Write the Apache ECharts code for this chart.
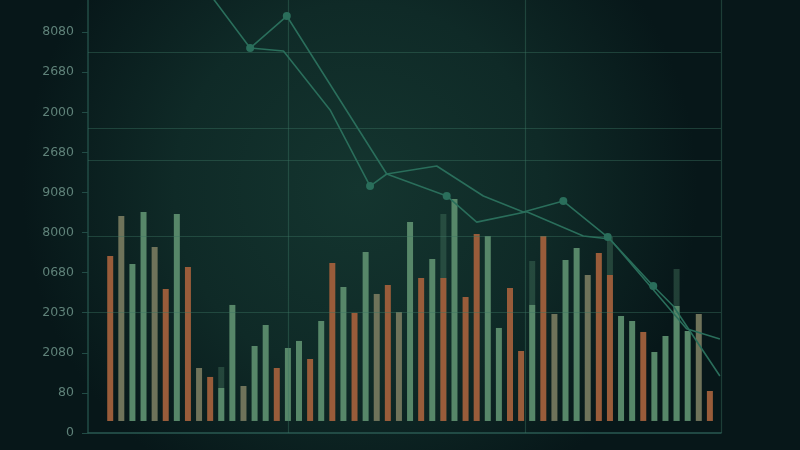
<!DOCTYPE html>
<html>
<head>
<meta charset="utf-8">
<script src="https://cdn.jsdelivr.net/npm/echarts@6/dist/echarts.min.js"></script>
<style>html,body{margin:0;padding:0;background:#081a1b}#c{width:800px;height:450px}</style>
</head>
<body>
<div id="c"></div>
<script>
// ---- data ----
const slotCount = 58;
const categories = Array.from({length: slotCount}, (_, i) => 'S' + (i + 1));
const firstBarSlot = 2;
const barValues = [2057,2556,1958,2606,2170,1646,2581,1920,661,549,
                   411,1447,436,935,1197,661,910,998,773,1247,
                   1970,1671,1347,2107,1584,1696,1359,2482,1783,2020,
                   1783,2768,1546,2332,2307,1160,1659,873,1447,2307,
                   1334,2008,2157,1821,2095,1821,1309,1247,1110,860,
                   1060,1434,1122,1334,374];
const barKinds = ('ovggvogovo' + 'ggvggoggog' + 'ogogvovgog' + 'ogooggoogo' + 'vggvooggog' + 'gggvo').split('');
const backBars = {11: 673, 31: 2581, 39: 1995, 46: 2294, 52: 1895};

const lineAX = [11.3, 14.6, 17.9, 26.9, 32.3, 35.0, 39.5, 44.6, 47.0, 53.9, 56.9];
const lineAY = [5262, 4651, 5050, 3080, 2806, 2480, 2610, 2307, 2270, 1150, 1022];
const lineAMarks = [0, 1, 1, 0, 1, 0, 0, 0, 0, 0, 0];
const lineBX = [14.6, 17.6, 21.8, 25.4, 26.9, 31.4, 35.6, 39.2, 42.8, 46.8, 50.9, 52.7, 56.9];
const lineBY = [4651, 4614, 3879, 2930, 3080, 3180, 2806, 2606, 2743, 2294, 1684, 1434, 561];
const lineBMarks = [0, 0, 0, 1, 0, 0, 0, 0, 1, 1, 1, 0, 0];

const yTickValues = [-150, 350, 850, 1350, 1850, 2350, 2850, 3350, 3850, 4350, 4850];
const yTickLabels = ['0', '80', '2080', '2030', '0680', '8000', '9080', '2680', '2000', '2680', '8080'];
const hGridValues = [4600, 3650, 3250, 2300, 1350];
const vGridValues = [18.0, 39.4, 57];

// ---- build series data ----
function kindData(k) {
  const arr = new Array(slotCount).fill(null);
  barValues.forEach((v, i) => { if (barKinds[i] === k) arr[firstBarSlot + i] = v; });
  return arr;
}
const backData = new Array(slotCount).fill(null);
Object.keys(backBars).forEach(n => { backData[firstBarSlot + Number(n) - 1] = backBars[n]; });
function lineData(xs, ys, marks) {
  return xs.map((x, i) => ({value: [x, ys[i]], symbolSize: marks[i] ? 8 : 0}));
}

const lineColor = '#2a6e5b';
const chart = echarts.init(document.getElementById('c'));
chart.setOption({
  animation: false,
  backgroundColor: {
    type: 'radial', x: 0.45, y: 0.42, r: 0.75,
    colorStops: [
      {offset: 0, color: '#14352f'},
      {offset: 0.55, color: '#0f2a27'},
      {offset: 1, color: '#071719'}
    ]
  },
  grid: {left: 88, right: 79, top: 0, bottom: 17},
  xAxis: [
    {
      type: 'category', data: categories, boundaryGap: false,
      axisLine: {onZero: false, lineStyle: {color: '#2a5a52', width: 1.5}},
      axisTick: {show: false}, axisLabel: {show: false}, splitLine: {show: false}
    },
    {type: 'value', min: 0, max: slotCount - 1, show: false}
  ],
  yAxis: {
    type: 'value', min: -150, max: 5250,
    axisLine: {show: true, lineStyle: {color: '#224c46', width: 1.5}},
    axisTick: {show: true, length: 6, customValues: yTickValues, lineStyle: {color: '#224c46'}},
    axisLabel: {
      customValues: yTickValues, margin: 14, color: '#5f8279', fontSize: 12.5,
      fontFamily: 'DejaVu Sans',
      formatter: v => { const i = yTickValues.indexOf(v); return i >= 0 ? yTickLabels[i] : ''; }
    },
    splitLine: {show: false}
  },
  series: [
    {type: 'bar', data: backData, barWidth: 6, barGap: '-100%', z: 1,
     itemStyle: {color: 'rgba(66,112,92,0.45)'}},
    {type: 'bar', data: kindData('g'), barWidth: 6, barGap: '-100%', z: 2,
     itemStyle: {color: '#578769'}},
    {type: 'bar', data: kindData('v'), barWidth: 6, barGap: '-100%', z: 2,
     itemStyle: {color: '#6f735a'}},
    {type: 'bar', data: kindData('o'), barWidth: 6, barGap: '-100%', z: 2,
     itemStyle: {color: '#995c3a'}},
    {type: 'line', xAxisIndex: 1, data: lineData(lineAX, lineAY, lineAMarks), z: 5,
     symbol: 'circle', showSymbol: true,
     lineStyle: {color: lineColor, width: 1.6}, itemStyle: {color: lineColor}},
    {type: 'line', xAxisIndex: 1, data: lineData(lineBX, lineBY, lineBMarks), z: 5,
     symbol: 'circle', showSymbol: true,
     lineStyle: {color: lineColor, width: 1.6}, itemStyle: {color: lineColor},
     markLine: {
       silent: true, symbol: ['none', 'none'], label: {show: false},
       lineStyle: {color: 'rgba(60,116,98,0.42)', width: 1.2, type: 'solid'},
       data: hGridValues.map(v => ({yAxis: v})).concat(vGridValues.map(v => ({xAxis: v})))
     }}
  ]
});
</script>
</body>
</html>
